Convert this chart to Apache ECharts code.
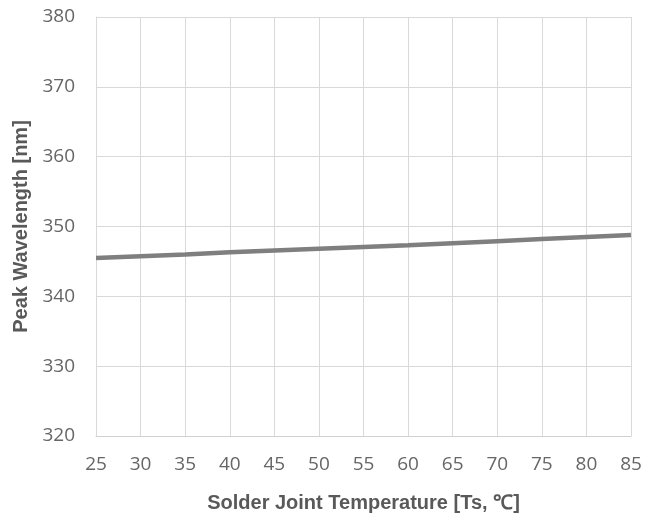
<!DOCTYPE html>
<html><head><meta charset="utf-8">
<script src="https://cdn.jsdelivr.net/npm/echarts@6/dist/echarts.min.js"></script>
<style>html,body{margin:0;padding:0;background:#fff}#c{width:661px;height:519px}</style>
</head><body><div id="c"></div>
<script>
const temperatures = [25,30,35,40,45,50,55,60,65,70,75,80,85];
const peakWavelength = [345.5,345.75,346.0,346.3,346.55,346.8,347.05,347.3,347.6,347.9,348.2,348.5,348.8];
const xTitle = 'Solder Joint Temperature [Ts, ℃]';
const yTitle = 'Peak Wavelength [nm]';
const chart = echarts.init(document.getElementById('c'));
chart.setOption({
  animation:false,
  grid:{left:96,right:30,top:17,bottom:83},
  xAxis:{type:'value',min:25,max:85,interval:5,
    name:xTitle,nameLocation:'middle',nameGap:57,
    nameTextStyle:{fontFamily:'Liberation Sans',fontWeight:'bold',fontSize:20,color:'#595959'},
    axisLine:{lineStyle:{color:'#d0d0d0',width:1}},axisTick:{show:false},
    axisLabel:{fontFamily:'Open Sans',fontSize:19,color:'#666666',margin:19},
    splitLine:{show:true,lineStyle:{color:'#d9d9d9',width:1}}},
  yAxis:{type:'value',min:320,max:380,interval:10,
    name:yTitle,nameLocation:'middle',nameGap:62,
    nameTextStyle:{fontFamily:'Liberation Sans',fontWeight:'bold',fontSize:20,color:'#595959'},
    axisLine:{show:true,lineStyle:{color:'#d9d9d9'}},axisTick:{show:false},
    axisLabel:{fontFamily:'Open Sans',fontSize:19,color:'#666666',margin:21},
    splitLine:{show:true,lineStyle:{color:'#d9d9d9',width:1}}},
  series:[{type:'line',data:temperatures.map((t,i)=>[t,peakWavelength[i]]),
    showSymbol:false,lineStyle:{color:'#7f7f7f',width:4.5}}]
});
</script></body></html>
